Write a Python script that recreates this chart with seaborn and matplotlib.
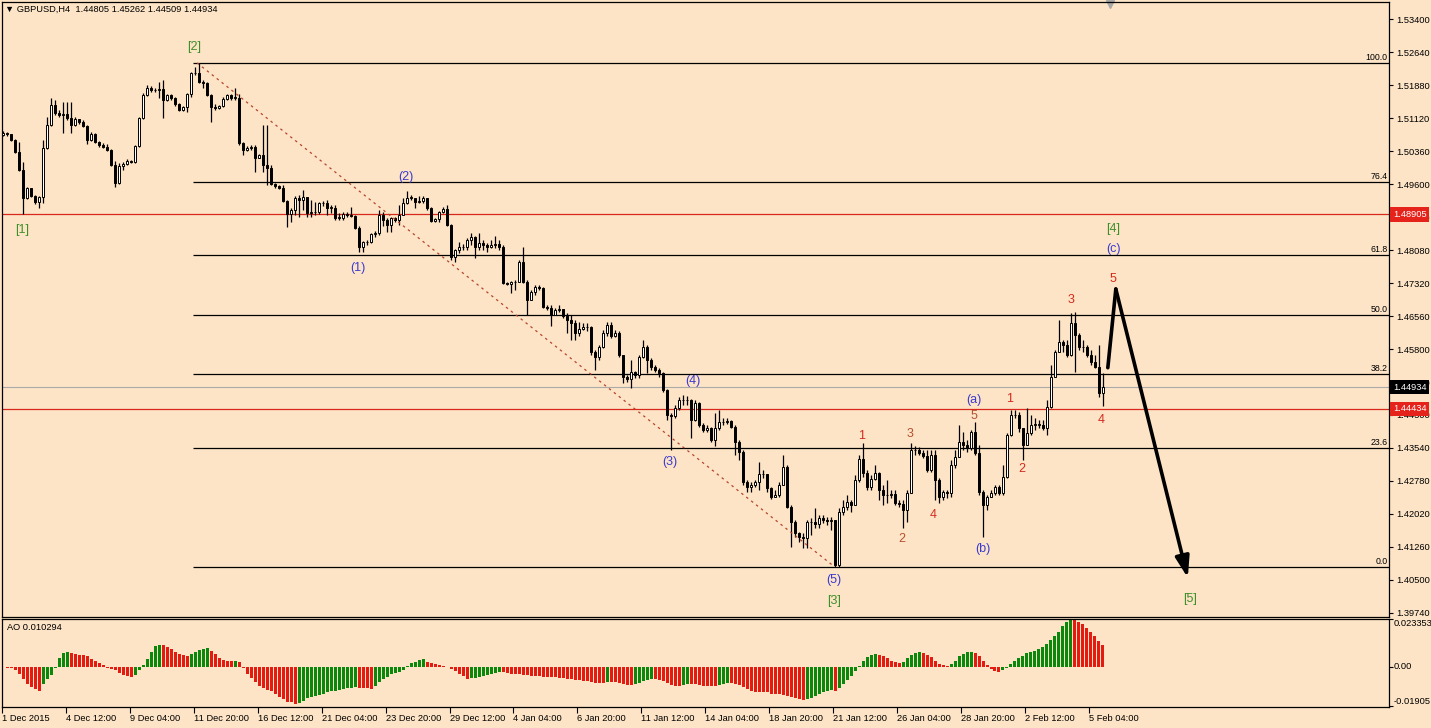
import numpy as np
import pandas as pd
import seaborn as sns
import matplotlib.pyplot as plt
from matplotlib.transforms import blended_transform_factory

# GBPUSD H4 bars (open of each bar = close of the one before)
first_open = 1.5073
close = [
    1.5078, 1.5076, 1.5062, 1.5034, 1.4993, 1.4929, 1.4952, 1.4933, 1.4919, 1.4931,
    1.5044, 1.5096, 1.5142, 1.5124, 1.5119, 1.5122, 1.5113, 1.5096, 1.5110, 1.5103,
    1.5094, 1.5062, 1.5076, 1.5057, 1.5050, 1.5046, 1.5039, 1.5005, 1.4963, 1.5002,
    1.5007, 1.5014, 1.5011, 1.5048, 1.5113, 1.5166, 1.5182, 1.5177, 1.5177, 1.5179,
    1.5154, 1.5166, 1.5159, 1.5145, 1.5131, 1.5138, 1.5168, 1.5216, 1.5216, 1.5195,
    1.5193, 1.5166, 1.5138, 1.5136, 1.5140, 1.5156, 1.5166, 1.5159, 1.5159, 1.5055,
    1.5039, 1.5044, 1.5046, 1.5021, 1.5028, 1.5005, 1.4998, 1.4961, 1.4956, 1.4952,
    1.4922, 1.4892, 1.4901, 1.4929, 1.4924, 1.4931, 1.4894, 1.4896, 1.4896, 1.4917,
    1.4917, 1.4906, 1.4906, 1.4883, 1.4883, 1.4892, 1.4889, 1.4887, 1.4860, 1.4816,
    1.4827, 1.4827, 1.4846, 1.4848, 1.4889, 1.4878, 1.4866, 1.4883, 1.4878, 1.4889,
    1.4917, 1.4929, 1.4929, 1.4919, 1.4922, 1.4929, 1.4906, 1.4876, 1.4880, 1.4896,
    1.4903, 1.4866, 1.4793, 1.4809, 1.4816, 1.4816, 1.4832, 1.4839, 1.4816, 1.4825,
    1.4820, 1.4816, 1.4820, 1.4823, 1.4816, 1.4733, 1.4731, 1.4735, 1.4735, 1.4781,
    1.4735, 1.4694, 1.4712, 1.4724, 1.4721, 1.4678, 1.4676, 1.4659, 1.4671, 1.4673,
    1.4657, 1.4648, 1.4641, 1.4618, 1.4627, 1.4632, 1.4632, 1.4574, 1.4563, 1.4586,
    1.4618, 1.4636, 1.4611, 1.4618, 1.4567, 1.4517, 1.4512, 1.4528, 1.4521, 1.4563,
    1.4586, 1.4556, 1.4540, 1.4533, 1.4526, 1.4487, 1.4429, 1.4427, 1.4446, 1.4464,
    1.4464, 1.4464, 1.4418, 1.4457, 1.4407, 1.4395, 1.4400, 1.4372, 1.4400, 1.4413,
    1.4413, 1.4416, 1.4402, 1.4367, 1.4344, 1.4275, 1.4264, 1.4268, 1.4275, 1.4294,
    1.4294, 1.4262, 1.4241, 1.4245, 1.4268, 1.4310, 1.4218, 1.4183, 1.4158, 1.4149,
    1.4147, 1.4183, 1.4183, 1.4179, 1.4193, 1.4188, 1.4186, 1.4188, 1.4084, 1.4206,
    1.4218, 1.4229, 1.4222, 1.4280, 1.4328, 1.4296, 1.4264, 1.4282, 1.4296, 1.4257,
    1.4245, 1.4245, 1.4248, 1.4227, 1.4225, 1.4211, 1.4250, 1.4349, 1.4349, 1.4342,
    1.4335, 1.4303, 1.4337, 1.4280, 1.4241, 1.4252, 1.4250, 1.4314, 1.4333, 1.4367,
    1.4360, 1.4354, 1.4390, 1.4342, 1.4252, 1.4222, 1.4241, 1.4250, 1.4264, 1.4250,
    1.4287, 1.4384, 1.4429, 1.4429, 1.4400, 1.4360, 1.4388, 1.4407, 1.4407, 1.4407,
    1.4400, 1.4448, 1.4517, 1.4574, 1.4597, 1.4590, 1.4567, 1.4641, 1.4614, 1.4586,
    1.4586, 1.4567, 1.4551, 1.4540, 1.4480, 1.4493,
]
high = [
    1.5083, 1.5080, 1.5076, 1.5064, 1.5057, 1.5011, 1.4954, 1.4952, 1.4935, 1.4933,
    1.5062, 1.5115, 1.5159, 1.5154, 1.5131, 1.5149, 1.5149, 1.5149, 1.5115, 1.5110,
    1.5108, 1.5096, 1.5080, 1.5078, 1.5060, 1.5055, 1.5053, 1.5041, 1.5014, 1.5009,
    1.5011, 1.5018, 1.5016, 1.5050, 1.5115, 1.5170, 1.5189, 1.5186, 1.5182, 1.5195,
    1.5200, 1.5168, 1.5168, 1.5161, 1.5147, 1.5140, 1.5170, 1.5218, 1.5230, 1.5239,
    1.5200, 1.5195, 1.5168, 1.5145, 1.5142, 1.5161, 1.5168, 1.5168, 1.5182, 1.5168,
    1.5057, 1.5048, 1.5050, 1.5050, 1.5030, 1.5096, 1.5096, 1.5005, 1.4963, 1.4959,
    1.4959, 1.4924, 1.4906, 1.4933, 1.4935, 1.4947, 1.4924, 1.4924, 1.4919, 1.4919,
    1.4922, 1.4924, 1.4912, 1.4912, 1.4894, 1.4896, 1.4896, 1.4908, 1.4889, 1.4864,
    1.4830, 1.4832, 1.4848, 1.4853, 1.4901, 1.4896, 1.4883, 1.4885, 1.4885, 1.4912,
    1.4929, 1.4945, 1.4935, 1.4924, 1.4933, 1.4933, 1.4929, 1.4908, 1.4883, 1.4899,
    1.4908, 1.4912, 1.4869, 1.4811, 1.4827, 1.4823, 1.4837, 1.4848, 1.4841, 1.4848,
    1.4832, 1.4825, 1.4832, 1.4841, 1.4832, 1.4820, 1.4735, 1.4737, 1.4740, 1.4786,
    1.4816, 1.4740, 1.4717, 1.4728, 1.4728, 1.4724, 1.4683, 1.4683, 1.4676, 1.4683,
    1.4671, 1.4664, 1.4659, 1.4648, 1.4643, 1.4641, 1.4641, 1.4634, 1.4579, 1.4590,
    1.4625, 1.4643, 1.4643, 1.4625, 1.4623, 1.4567, 1.4521, 1.4556, 1.4531, 1.4567,
    1.4602, 1.4590, 1.4561, 1.4544, 1.4538, 1.4528, 1.4489, 1.4434, 1.4453, 1.4471,
    1.4476, 1.4473, 1.4466, 1.4464, 1.4459, 1.4411, 1.4407, 1.4402, 1.4434, 1.4441,
    1.4423, 1.4423, 1.4418, 1.4407, 1.4372, 1.4349, 1.4280, 1.4275, 1.4280, 1.4321,
    1.4303, 1.4291, 1.4264, 1.4257, 1.4275, 1.4337, 1.4314, 1.4223, 1.4188, 1.4160,
    1.4158, 1.4188, 1.4193, 1.4216, 1.4200, 1.4200, 1.4195, 1.4195, 1.4188, 1.4216,
    1.4234, 1.4245, 1.4234, 1.4291, 1.4337, 1.4365, 1.4303, 1.4291, 1.4314, 1.4298,
    1.4268, 1.4280, 1.4257, 1.4257, 1.4234, 1.4234, 1.4257, 1.4365, 1.4358, 1.4356,
    1.4349, 1.4349, 1.4349, 1.4349, 1.4285, 1.4257, 1.4257, 1.4326, 1.4349, 1.4407,
    1.4390, 1.4372, 1.4395, 1.4413, 1.4360, 1.4257, 1.4245, 1.4257, 1.4268, 1.4268,
    1.4314, 1.4388, 1.4441, 1.4441, 1.4436, 1.4400, 1.4446, 1.4430, 1.4423, 1.4418,
    1.4418, 1.4464, 1.4544, 1.4579, 1.4648, 1.4602, 1.4602, 1.4664, 1.4666, 1.4618,
    1.4602, 1.4590, 1.4579, 1.4567, 1.4590, 1.4526,
]
low = [
    1.5071, 1.5071, 1.5060, 1.5032, 1.4991, 1.4891, 1.4926, 1.4931, 1.4915, 1.4906,
    1.4917, 1.5041, 1.5094, 1.5119, 1.5115, 1.5078, 1.5108, 1.5078, 1.5094, 1.5099,
    1.5092, 1.5053, 1.5060, 1.5055, 1.5046, 1.5044, 1.5037, 1.5002, 1.4954, 1.4961,
    1.4993, 1.5005, 1.5009, 1.5009, 1.5046, 1.5110, 1.5163, 1.5172, 1.5172, 1.5159,
    1.5113, 1.5152, 1.5154, 1.5140, 1.5129, 1.5129, 1.5126, 1.5161, 1.5211, 1.5193,
    1.5182, 1.5163, 1.5103, 1.5131, 1.5133, 1.5138, 1.5154, 1.5154, 1.5154, 1.5050,
    1.5028, 1.5037, 1.5039, 1.4988, 1.5021, 1.4988, 1.4959, 1.4959, 1.4952, 1.4949,
    1.4919, 1.4862, 1.4873, 1.4889, 1.4885, 1.4901, 1.4885, 1.4885, 1.4889, 1.4892,
    1.4910, 1.4889, 1.4894, 1.4878, 1.4878, 1.4878, 1.4885, 1.4885, 1.4857, 1.4804,
    1.4804, 1.4820, 1.4825, 1.4839, 1.4843, 1.4864, 1.4850, 1.4850, 1.4873, 1.4866,
    1.4889, 1.4915, 1.4924, 1.4906, 1.4917, 1.4917, 1.4901, 1.4873, 1.4873, 1.4873,
    1.4894, 1.4864, 1.4786, 1.4781, 1.4802, 1.4809, 1.4809, 1.4820, 1.4791, 1.4809,
    1.4809, 1.4804, 1.4814, 1.4814, 1.4809, 1.4731, 1.4728, 1.4710, 1.4717, 1.4735,
    1.4733, 1.4659, 1.4694, 1.4706, 1.4717, 1.4676, 1.4671, 1.4634, 1.4659, 1.4666,
    1.4653, 1.4618, 1.4602, 1.4602, 1.4611, 1.4625, 1.4623, 1.4567, 1.4533, 1.4556,
    1.4584, 1.4611, 1.4607, 1.4609, 1.4563, 1.4503, 1.4505, 1.4492, 1.4515, 1.4515,
    1.4561, 1.4526, 1.4533, 1.4528, 1.4517, 1.4482, 1.4418, 1.4349, 1.4423, 1.4441,
    1.4453, 1.4453, 1.4377, 1.4416, 1.4402, 1.4390, 1.4390, 1.4367, 1.4358, 1.4395,
    1.4407, 1.4409, 1.4400, 1.4337, 1.4326, 1.4268, 1.4252, 1.4252, 1.4264, 1.4257,
    1.4285, 1.4252, 1.4236, 1.4241, 1.4241, 1.4268, 1.4216, 1.4126, 1.4149, 1.4137,
    1.4124, 1.4124, 1.4153, 1.4170, 1.4170, 1.4181, 1.4177, 1.4165, 1.4080, 1.4080,
    1.4200, 1.4211, 1.4206, 1.4222, 1.4275, 1.4287, 1.4257, 1.4257, 1.4280, 1.4234,
    1.4222, 1.4227, 1.4238, 1.4222, 1.4218, 1.4170, 1.4184, 1.4250, 1.4337, 1.4337,
    1.4331, 1.4298, 1.4298, 1.4234, 1.4227, 1.4234, 1.4238, 1.4241, 1.4308, 1.4333,
    1.4349, 1.4344, 1.4349, 1.4337, 1.4245, 1.4149, 1.4211, 1.4241, 1.4245, 1.4245,
    1.4245, 1.4285, 1.4381, 1.4423, 1.4390, 1.4326, 1.4360, 1.4384, 1.4395, 1.4400,
    1.4395, 1.4384, 1.4446, 1.4517, 1.4574, 1.4574, 1.4563, 1.4565, 1.4528, 1.4579,
    1.4574, 1.4563, 1.4544, 1.4538, 1.4471, 1.4451,
]

# Awesome Oscillator, one value per bar
ao = [
    -0.0003, -0.0005, -0.0008, -0.0014, -0.0034, -0.0059, -0.0084, -0.0100, -0.0109, -0.0120,
    -0.0084, -0.0059, -0.0042, -0.0004, 0.0042, 0.0067, 0.0072, 0.0067, 0.0062, 0.0059,
    0.0058, 0.0050, 0.0037, 0.0029, 0.0020, 0.0009, -0.0004, -0.0009, -0.0017, -0.0030,
    -0.0039, -0.0045, -0.0050, -0.0039, -0.0014, 0.0009, 0.0037, 0.0070, 0.0100, 0.0105,
    0.0104, 0.0095, 0.0084, 0.0072, 0.0062, 0.0055, 0.0054, 0.0062, 0.0072, 0.0080,
    0.0087, 0.0089, 0.0075, 0.0062, 0.0042, 0.0034, 0.0030, 0.0029, 0.0030, 0.0025,
    -0.0004, -0.0034, -0.0055, -0.0075, -0.0092, -0.0104, -0.0112, -0.0120, -0.0130, -0.0145,
    -0.0159, -0.0170, -0.0173, -0.0179, -0.0177, -0.0164, -0.0154, -0.0147, -0.0142, -0.0137,
    -0.0130, -0.0125, -0.0120, -0.0117, -0.0112, -0.0109, -0.0105, -0.0104, -0.0100, -0.0102,
    -0.0104, -0.0105, -0.0107, -0.0092, -0.0075, -0.0059, -0.0050, -0.0034, -0.0029, -0.0025,
    -0.0017, 0.0004, 0.0017, 0.0025, 0.0034, 0.0035, 0.0025, 0.0017, 0.0012, 0.0009,
    0.0005, 0.0000, -0.0009, -0.0020, -0.0034, -0.0047, -0.0059, -0.0057, -0.0055, -0.0050,
    -0.0045, -0.0040, -0.0035, -0.0030, -0.0025, -0.0025, -0.0030, -0.0035,
    -0.0035, -0.0035, -0.0040, -0.0040, -0.0045, -0.0045, -0.0045, -0.0050,
    -0.0050, -0.0050, -0.0050, -0.0055, -0.0055, -0.0060, -0.0060, -0.0065,
    -0.0065, -0.0070, -0.0070, -0.0075, -0.0080, -0.0080, -0.0080, -0.0075,
    -0.0075, -0.0075, -0.0080, -0.0085, -0.0090, -0.0090, -0.0085, -0.0080,
    -0.0070, -0.0065, -0.0060, -0.0060, -0.0065, -0.0070, -0.0080, -0.0090,
    -0.0095, -0.0095, -0.0090, -0.0085, -0.0085, -0.0085, -0.0090, -0.0095,
    -0.0095, -0.0095, -0.0095, -0.0090, -0.0085, -0.0080, -0.0080, -0.0085,
    -0.0090, -0.0100, -0.0110, -0.0120, -0.0125, -0.0125, -0.0125, -0.0125,
    -0.0130, -0.0130, -0.0130, -0.0135, -0.0140, -0.0145, -0.0150, -0.0155,
    -0.0160, -0.0155, -0.0150, -0.0140, -0.0130, -0.0125, -0.0120, -0.0115,
    -0.0120, -0.0105, -0.0085, -0.0065, -0.0045, -0.0020, 0.0005, 0.0030,
    0.0045, 0.0055, 0.0060, 0.0058, 0.0050, 0.0040, 0.0030, 0.0022,
    0.0018, 0.0025, 0.0040, 0.0055, 0.0065, 0.0070, 0.0068, 0.0058,
    0.0045, 0.0030, 0.0015, 0.0008, 0.0005, 0.0012, 0.0030, 0.0050,
    0.0062, 0.0070, 0.0072, 0.0065, 0.0050, 0.0030, 0.0010, -0.0010,
    -0.0022, -0.0025, -0.0018, -0.0005, 0.0012, 0.0028, 0.0042, 0.0052,
    0.0065, 0.0070, 0.0075, 0.0085, 0.0095, 0.0110, 0.0130, 0.0150,
    0.0170, 0.0195, 0.0215, 0.0234, 0.0228, 0.0218, 0.0205, 0.0190,
    0.0170, 0.0150, 0.0125, 0.0103,
]

time_labels = ['1 Dec 2015', '4 Dec 12:00', '9 Dec 04:00', '11 Dec 20:00', '16 Dec 12:00',
               '21 Dec 04:00', '23 Dec 20:00', '29 Dec 12:00', '4 Jan 04:00', '6 Jan 20:00',
               '11 Jan 12:00', '14 Jan 04:00', '18 Jan 20:00', '21 Jan 12:00', '26 Jan 04:00',
               '28 Jan 20:00', '2 Feb 12:00', '5 Feb 04:00']
price_labels = ['1.53400', '1.52640', '1.51880', '1.51120', '1.50360', '1.49600', '1.48840',
                '1.48080', '1.47320', '1.46560', '1.45800', '1.45040', '1.44300', '1.43540',
                '1.42780', '1.42020', '1.41260', '1.40500', '1.39740']
ao_labels = ['0.023353', '0.00', '-0.01905']

fib_high, fib_low = 1.5239, 1.4080
fib_levels = [100.0, 76.4, 61.8, 50.0, 38.2, 23.6, 0.0]
red_levels = [1.48905, 1.44434]
quote = [1.44805, 1.45262, 1.44509, 1.44934]   # O H L C of the last bar
ao_now = 0.010294

GREEN, BLUE, RED, BROWN = '#3d8f2a', '#3a3ad0', '#d42a1c', '#b4512f'
waves = [
    ('[2]', 47.8, 1.5276, GREEN), ('[1]', 4.8, 1.4855, GREEN),
    ('(2)', 100.8, 1.4977, BLUE), ('(1)', 88.8, 1.4768, BLUE),
    ('(3)', 166.8, 1.4321, BLUE), ('(4)', 172.6, 1.4508, BLUE),
    ('(5)', 207.8, 1.4050, BLUE), ('[3]', 207.8, 1.4002, GREEN),
    ('1', 214.8, 1.4381, RED), ('2', 224.8, 1.4144, BROWN),
    ('3', 226.8, 1.4386, BROWN), ('4', 232.6, 1.4200, RED),
    ('5', 242.8, 1.4427, BROWN), ('(a)', 242.8, 1.4464, BLUE),
    ('(b)', 245.1, 1.4121, BLUE), ('1', 251.8, 1.4466, RED),
    ('2', 254.8, 1.4305, RED), ('3', 267.1, 1.4694, RED),
    ('4', 274.6, 1.4418, RED), ('5', 277.6, 1.4742, RED),
    ('(c)', 277.6, 1.4811, BLUE), ('[4]', 277.6, 1.4857, GREEN),
    ('[5]', 296.8, 1.4006, GREEN),
]
# forecast path: start, top of [4], target of [5]
path_bar = [276.3, 278.3, 296.3]
path_price = [1.4538, 1.4719, 1.4055]

df = pd.DataFrame({'close': close, 'high': high, 'low': low})
df['open'] = [first_open] + close[:-1]
df['bar'] = np.arange(len(df))
df['high'] = df[['high', 'open', 'close']].max(axis=1)
df['low'] = df[['low', 'open', 'close']].min(axis=1)
df['up'] = df['close'] >= df['open']

aodf = pd.DataFrame({'bar': np.arange(len(ao)), 'ao': ao})
aodf['dir'] = np.where(aodf['ao'].diff() > 0, 'up', 'down')

bg = '#fde4c6'
sns.set_theme(style='white', rc={'axes.facecolor': bg, 'figure.facecolor': bg,
                                 'axes.edgecolor': 'black', 'axes.linewidth': 0.9,
                                 'xtick.color': 'black', 'ytick.color': 'black',
                                 'text.color': 'black'})
plt.rcParams['font.family'] = ['Liberation Sans', 'DejaVu Sans']

W, H = 1431, 728
fig = plt.figure(figsize=(W / 100, H / 100), dpi=100)
ax = fig.add_axes([2 / W, 1 - 617 / H, 1387 / W, 615 / H])
ax2 = fig.add_axes([2 / W, 1 - 706.5 / H, 1387 / W, 88 / H])
xlim = (-0.175, 346.6)

# candles
ax.vlines(df['bar'], df['low'], df['high'], color='black', lw=0.9, zorder=2)
body = (df['close'] - df['open']).abs().clip(lower=0.00006)
ax.bar(df['bar'], body, bottom=df[['open', 'close']].min(axis=1), width=0.55,
       color=np.where(df['up'], 'white', 'black'), edgecolor='black', linewidth=0.7, zorder=3)

# fibonacci retracement
for lvl in fib_levels:
    p = fib_low + (fib_high - fib_low) * lvl / 100
    ax.hlines(p, 47.6, xlim[1], color='black', lw=0.9, zorder=1)
    ax.text(xlim[1] - 0.4, p + 0.0003, f'{lvl:.1f}', ha='right', va='bottom', fontsize=6.3)

for p in red_levels:
    ax.axhline(p, color='#d8281c', lw=0.9, zorder=1)
ax.axhline(quote[3], color='#aaaaaa', lw=0.8, zorder=1)

# trend line [2] -> (5)
ax.plot([48.6, 208], [fib_high, fib_low], color='#b5452b', lw=0.9, ls=(0, (2, 3)), zorder=4)

for txt, b, p, c in waves:
    ax.text(b, p, txt, color=c, fontsize=9, ha='center', va='center', zorder=6)

ax.plot(path_bar[:2], path_price[:2], color='black', lw=2.6, solid_capstyle='round', zorder=5)
ax.annotate('', xy=(path_bar[2], path_price[2]), xytext=(path_bar[1], path_price[1]),
            arrowprops=dict(arrowstyle='-|>,head_length=0.9,head_width=0.3', lw=2.6,
                            color='black', shrinkA=0, shrinkB=0, mutation_scale=14), zorder=5)

ax.set_xlim(*xlim)
ax.set_ylim(1.39647, 1.53791)
ax.set_xticks([])
ax.yaxis.tick_right()
ax.set_yticks([float(s) for s in price_labels])
ax.set_yticklabels(price_labels)
ax.tick_params(axis='y', length=3, width=0.8, pad=2, labelsize=6.7, direction='out', right=True)

ax.text(3 / 1387, 0.988, '\u25bc GBPUSD,H4  ' + ' '.join(f'{v:.5f}' for v in quote),
        transform=ax.transAxes, fontsize=6.7, va='center', ha='left')

trans = blended_transform_factory(ax.transAxes, ax.transData)
for p, fc in [(red_levels[0], '#e5231b'), (quote[3], 'black'), (red_levels[1], '#e5231b')]:
    ax.text(1 + 4 / 1387, p, f'{p:.5f}', transform=trans, color='white', fontsize=6.7,
            va='center', ha='left', clip_on=False, zorder=10,
            bbox=dict(boxstyle='square,pad=0.3', fc=fc, ec='none'))
ax.plot([276.9], [1 - 1.5 / 615], marker='v', ms=6, color='#a8a8a8', clip_on=False,
        transform=blended_transform_factory(ax.transData, ax.transAxes))

# AO panel
sns.barplot(data=aodf, x='bar', y='ao', hue='dir', palette={'up': '#0b870b', 'down': '#e31b10'},
            native_scale=True, dodge=False, width=0.75, saturation=1, errorbar=None,
            legend=False, linewidth=0, ax=ax2)
ax2.set_xlim(*xlim)
ax2.set_ylim(-0.0193, 0.02337)
ax2.set_xlabel('')
ax2.set_ylabel('')
ax2.yaxis.tick_right()
ax2.set_yticks([0.023353, 0.0, -0.01905])
ax2.set_yticklabels(['', '', ''])
ax2.tick_params(axis='y', length=3, width=0.8, direction='out', right=True)
t2 = blended_transform_factory(ax2.transAxes, ax2.transData)
for lab, v, va in zip(ao_labels, [0.023353, 0.0, -0.01905], ['top', 'center', 'bottom']):
    ax2.text(1 + 5 / 1387, v, lab, transform=t2, fontsize=6.7, va=va, ha='left', clip_on=False)
ax2.text(5 / 1387, 0.95, f'AO {ao_now:.6f}', transform=ax2.transAxes, fontsize=6.7, va='top')

ax2.set_xticks([16 * k - 0.5 for k in range(len(time_labels))])
ax2.set_xticklabels(time_labels, ha='left')
ax2.tick_params(axis='x', length=4, width=0.8, pad=1.5, labelsize=6.7, direction='out', bottom=True)

fig.savefig('out.png', dpi=100, facecolor=bg)
